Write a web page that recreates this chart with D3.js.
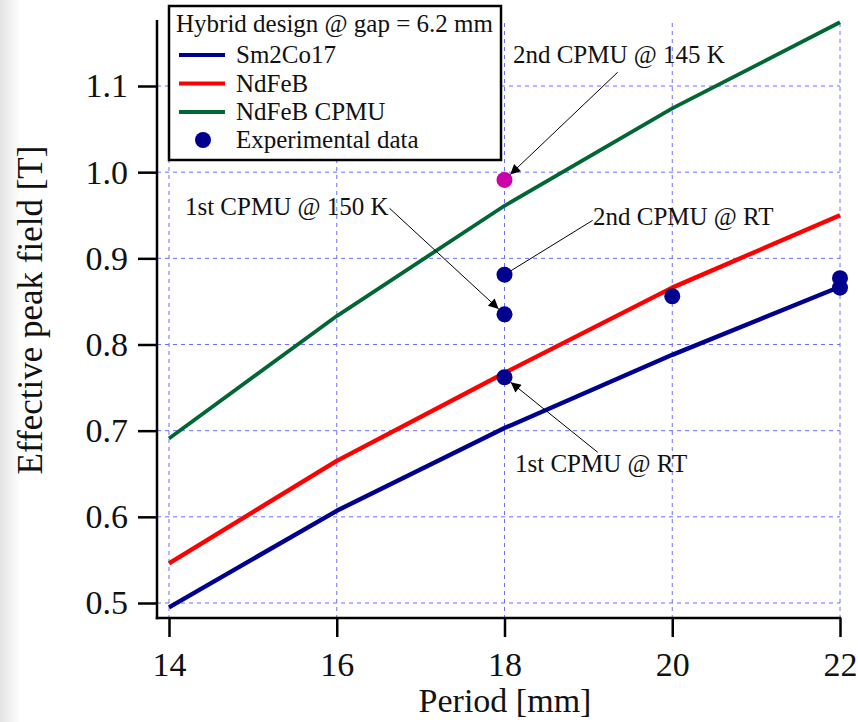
<!DOCTYPE html>
<html>
<head>
<meta charset="utf-8">
<script src="https://cdn.jsdelivr.net/npm/d3@7"></script>
<style>
  body { margin: 0; background: #fff; }
  text { font-family: "Liberation Serif", "Times New Roman", serif; fill: #111; }
</style>
</head>
<body>
<div id="chart"></div>
<script>
// period [mm]
var periods = [14, 16, 18, 20, 22];
// effective peak field [T]
var sm2co17 = [0.495, 0.607, 0.703, 0.788, 0.867];
var ndfeb = [0.546, 0.665, 0.767, 0.866, 0.950];
var ndfebCpmu = [0.691, 0.833, 0.961, 1.074, 1.174];

var expPeriod = [18, 18, 18, 20, 22, 22];
var expField = [0.762, 0.835, 0.881, 0.856, 0.877, 0.866];
var cpmu145Period = [18];
var cpmu145Field = [0.991];

var xTicks = [14, 16, 18, 20, 22];
var yTicks = [0.5, 0.6, 0.7, 0.8, 0.9, 1.0, 1.1];

var seriesNames = ["Sm2Co17", "NdFeB", "NdFeB CPMU"];
var seriesColors = ["#00008f", "#ff0000", "#006633"];
var legendTitle = "Hybrid design @ gap = 6.2 mm";

// label text anchor, line start, target point (all in data units)
var notes = [
  {label: "2nd CPMU @ 145 K", tx: 18.10, ty: 1.127, lx: 19.35, ly: 1.116, px: 18, py: 0.991, arrow: true},
  {label: "1st CPMU @ 150 K", tx: 14.19, ty: 0.950, lx: 16.63, ly: 0.958, px: 18, py: 0.835, arrow: true},
  {label: "2nd CPMU @ RT", tx: 19.055, ty: 0.939, lx: 19.05, ly: 0.944, px: 18, py: 0.881, arrow: false},
  {label: "1st CPMU @ RT", tx: 18.125, ty: 0.652, lx: 19.11, ly: 0.675, px: 18, py: 0.762, arrow: true}
];

var svgWidth = 858;
var svgHeight = 722;

var svg = d3.select("#chart")
  .append("svg")
  .attr("width", svgWidth)
  .attr("height", svgHeight);

var defs = svg.append("defs");
var grad = defs.append("linearGradient").attr("id", "edge");
grad.append("stop").attr("offset", "0%").attr("stop-color", "#e2e2e2");
grad.append("stop").attr("offset", "100%").attr("stop-color", "#ffffff");

defs.append("marker")
  .attr("id", "head")
  .attr("viewBox", "0 0 10 10")
  .attr("refX", 10)
  .attr("refY", 5)
  .attr("markerWidth", 14)
  .attr("markerHeight", 10)
  .attr("markerUnits", "userSpaceOnUse")
  .attr("orient", "auto")
  .append("path")
  .attr("d", "M0,0 L10,5 L0,10 z")
  .attr("fill", "#000");

svg.append("rect")
  .attr("x", 0).attr("y", 0)
  .attr("width", 20).attr("height", svgHeight)
  .attr("fill", "url(#edge)");

var x = d3.scaleLinear().domain([14, 22]).range([169, 840]);
var y = d3.scaleLinear().domain([0.5, 1.1]).range([603, 86]);

var axisX = 157;
var axisY = 618;
var plotTop = 20;

// grid
svg.append("g").selectAll("line")
  .data(xTicks)
  .enter()
  .append("line")
  .attr("x1", d => x(d)).attr("x2", d => x(d))
  .attr("y1", plotTop + 3).attr("y2", axisY)
  .attr("stroke", "#6f6fff")
  .attr("stroke-width", 1)
  .attr("stroke-dasharray", "4,4");

svg.append("g").selectAll("line")
  .data(yTicks)
  .enter()
  .append("line")
  .attr("x1", axisX).attr("x2", x(22))
  .attr("y1", d => y(d)).attr("y2", d => y(d))
  .attr("stroke", "#6f6fff")
  .attr("stroke-width", 1)
  .attr("stroke-dasharray", "4,4");

// curves
var allSeries = [sm2co17, ndfeb, ndfebCpmu];
var line = d3.line()
  .x((d, i) => x(periods[i]))
  .y(d => y(d));

svg.append("g").selectAll("path")
  .data(allSeries)
  .enter()
  .append("path")
  .attr("d", d => line(d))
  .attr("fill", "none")
  .attr("stroke", (d, i) => seriesColors[i])
  .attr("stroke-width", (d, i) => i == 2 ? 3.8 : 4.4)
  .attr("stroke-linejoin", "round");

// experimental points
svg.append("g").selectAll("circle")
  .data(expPeriod)
  .enter()
  .append("circle")
  .attr("cx", d => x(d))
  .attr("cy", (d, i) => y(expField[i]))
  .attr("r", 8)
  .attr("fill", "#00008f");

svg.append("g").selectAll("circle")
  .data(cpmu145Period)
  .enter()
  .append("circle")
  .attr("cx", d => x(d))
  .attr("cy", (d, i) => y(cpmu145Field[i]))
  .attr("r", 8)
  .attr("fill", "#cc00aa");

// annotations
var noteG = svg.append("g");
notes.forEach(function(n) {
  var x1 = x(n.lx), y1 = y(n.ly), x2 = x(n.px), y2 = y(n.py);
  var len = Math.sqrt((x2 - x1) * (x2 - x1) + (y2 - y1) * (y2 - y1));
  var cut = n.arrow ? 8 : 7;
  var ex = x2 - (x2 - x1) / len * cut;
  var ey = y2 - (y2 - y1) / len * cut;
  var ln = noteG.append("line")
    .attr("x1", x1).attr("y1", y1)
    .attr("x2", ex).attr("y2", ey)
    .attr("stroke", "#000")
    .attr("stroke-width", 1);
  if (n.arrow) ln.attr("marker-end", "url(#head)");
  noteG.append("text")
    .attr("x", x(n.tx))
    .attr("y", y(n.ty))
    .attr("font-size", 25)
    .text(n.label);
});

// axes
var leftAxis = d3.axisLeft(y).tickValues(yTicks).tickSize(19).tickPadding(10)
  .tickFormat(d3.format(".1f"));
var bottomAxis = d3.axisBottom(x).tickValues(xTicks).tickSize(19).tickPadding(15)
  .tickFormat(d3.format("d"));

var yAxis = svg.append("g")
  .attr("transform", `translate(${axisX}, 0)`)
  .call(leftAxis);
yAxis.select(".domain").remove();
yAxis.selectAll("line").attr("stroke", "#000").attr("stroke-width", 2.5);
yAxis.selectAll("text")
  .attr("font-size", 34)
  .attr("font-family", "Liberation Serif, serif")
  .attr("fill", "#111");

var xAxis = svg.append("g")
  .attr("transform", `translate(0, ${axisY})`)
  .call(bottomAxis);
xAxis.select(".domain").remove();
xAxis.selectAll("line").attr("stroke", "#000").attr("stroke-width", 2.5);
xAxis.selectAll("text")
  .attr("font-size", 34)
  .attr("font-family", "Liberation Serif, serif")
  .attr("fill", "#111");

svg.append("line")
  .attr("x1", axisX).attr("x2", axisX)
  .attr("y1", plotTop).attr("y2", axisY + 1.25)
  .attr("stroke", "#000").attr("stroke-width", 2.5);
svg.append("line")
  .attr("x1", axisX - 1.25).attr("x2", x(22) + 1.25)
  .attr("y1", axisY).attr("y2", axisY)
  .attr("stroke", "#000").attr("stroke-width", 2.5);

svg.append("text")
  .attr("x", 505)
  .attr("y", 712)
  .attr("text-anchor", "middle")
  .attr("font-size", 34)
  .text("Period [mm]");

svg.append("text")
  .attr("transform", "translate(42, 310) rotate(-90)")
  .attr("text-anchor", "middle")
  .attr("font-size", 35)
  .text("Effective peak field [T]");

// legend
var legend = svg.append("g");
legend.append("rect")
  .attr("x", 169).attr("y", 6)
  .attr("width", 332).attr("height", 154)
  .attr("fill", "#fff")
  .attr("stroke", "#000")
  .attr("stroke-width", 2.5);

legend.append("text")
  .attr("x", 176).attr("y", 32)
  .attr("font-size", 25)
  .text(legendTitle);

seriesNames.forEach(function(name, i) {
  var yy = 55 + i * 28.5;
  legend.append("line")
    .attr("x1", 179).attr("x2", 225)
    .attr("y1", yy).attr("y2", yy)
    .attr("stroke", seriesColors[i])
    .attr("stroke-width", 4);
  legend.append("text")
    .attr("x", 236).attr("y", yy + 8)
    .attr("font-size", 25)
    .text(name);
});

legend.append("circle")
  .attr("cx", 203).attr("cy", 140)
  .attr("r", 8)
  .attr("fill", "#00008f");
legend.append("text")
  .attr("x", 236).attr("y", 148)
  .attr("font-size", 25)
  .text("Experimental data");
</script>
</body>
</html>
